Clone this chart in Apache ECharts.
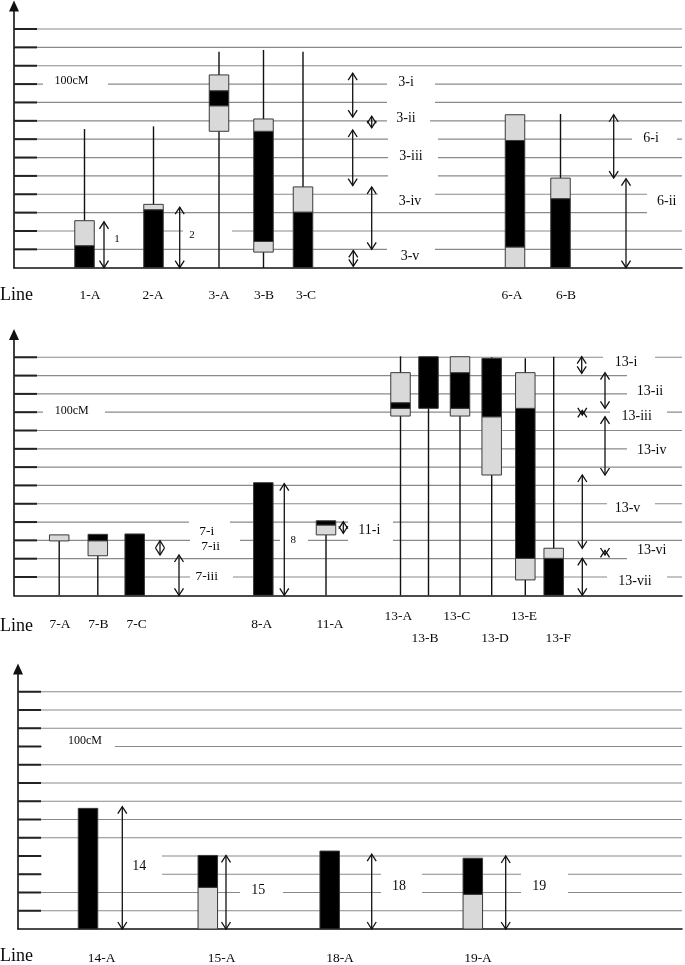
<!DOCTYPE html>
<html><head><meta charset="utf-8">
<script src="https://cdn.jsdelivr.net/npm/echarts/dist/echarts.min.js"></script>
<style>html,body{margin:0;padding:0;background:#fff}#c{width:685px;height:965px}</style>
</head><body><div id="c"></div>
<script>
// ---------------- DATA ----------------
const gridValues = [1,2,3,4,5,6,7,8,9,10,11,12,13];

// Panel 1
const cats1 = ['1-A','2-A','3-A','3-B','3-C','6-A','6-B'];
const stemTop1 = [7.55, 7.7, 11.76, 11.86, 11.76, null, 8.37];
const segs1 = [
  ['1-A',0,1.2,'B'],['1-A',1.2,2.56,'G'],
  ['2-A',0,3.16,'B'],['2-A',3.16,3.45,'G'],
  ['3-A',7.43,8.82,'G'],['3-A',8.82,9.64,'B'],['3-A',9.64,10.5,'G'],
  ['3-B',0.85,1.43,'G'],['3-B',1.43,7.43,'B'],['3-B',7.43,8.1,'G'],
  ['3-C',0,3.03,'B'],['3-C',3.03,4.4,'G'],
  ['6-A',0,1.13,'G'],['6-A',1.13,6.93,'B'],['6-A',6.93,8.33,'G'],
  ['6-B',0,3.76,'B'],['6-B',3.76,4.88,'G']
];
const intervals1 = [['1',0,2.5],['2',0,3.3],['3-i',8.2,10.6],['3-ii',7.62,8.25],['3-iii',4.47,7.5],['3-iv',1.0,4.4],['3-v',0.07,0.94],['6-i',4.88,8.33],['6-ii',0,4.85]];
const labels1 = ['1','2','3-i','3-ii','3-iii','3-iv','3-v','6-i','6-ii'];

// Panel 2
const cats2 = ['7-A','7-B','7-C','8-A','11-A','13-A','13-B','13-C','13-D','13-E','13-F'];
const stemTop2 = [2.97, 2.16, null, null, 3.3, 13.05, 13.0, 13.0, 13.0, 12.94, 13.03];
const segs2 = [
  ['7-A',2.97,3.3,'G'],
  ['7-B',2.16,2.98,'G'],['7-B',2.98,3.33,'B'],
  ['7-C',0,3.35,'B'],
  ['8-A',0,6.15,'B'],
  ['11-A',3.3,3.84,'G'],['11-A',3.84,4.07,'B'],
  ['13-A',9.79,10.21,'G'],['13-A',10.21,10.52,'B'],['13-A',10.52,12.16,'G'],
  ['13-B',10.21,13.03,'B'],
  ['13-C',9.79,10.21,'G'],['13-C',10.21,12.16,'B'],['13-C',12.16,13.03,'G'],
  ['13-D',6.57,9.75,'G'],['13-D',9.75,12.94,'B'],
  ['13-E',0.84,2.02,'G'],['13-E',2.02,10.21,'B'],['13-E',10.21,12.16,'G'],
  ['13-F',0,2.02,'B'],['13-F',2.02,2.57,'G']
];
const intervals2 = [['7-ii',2.2,2.98],['7-iii',0,2.2],['8',0,6.1],['11-i',3.39,4.02],['13-i',12.12,13.03],['13-ii',10.21,12.16],['13-iii',9.85,10.1],['13-iv',6.57,9.75],['13-v',2.57,6.57],['13-vi',2.2,2.45],['13-vii',0,2.02]];
const labels2 = ['7-i','7-ii','7-iii','8','11-i','13-i','13-ii','13-iii','13-iv','13-v','13-vi','13-vii'];

// Panel 3
const cats3 = ['14-A','15-A','18-A','19-A'];
const stemTop3 = [null,null,null,null];
const segs3 = [['14-A',0,6.61,'B'],['15-A',0,2.28,'G'],['15-A',2.28,4.03,'B'],['18-A',0,4.27,'B'],['19-A',0,1.9,'G'],['19-A',1.9,3.88,'B']];
const intervals3 = [['14',0,6.7],['15',0,4.03],['18',0,4.1],['19',0,4.0]];
const labels3 = ['14','15','18','19'];

const axisTitle = 'Line';
const scaleLabel = '100cM';

// ---------------- LAYOUT ----------------
const X_MAX = 682, Y_MAX = 14.25, BAR_W = 19.5, TICK_LEN = 23;
const layout = [
  { left:14, baseline:267.7, unit:18.36,
    catX:[84.5,153.5,219,263.5,303,515,560.5],
    catLabelX:[90,153,219,264,306,512,566], catLabelV:[-1.49,-1.49,-1.49,-1.49,-1.49,-1.49,-1.49],
    intervalX:[104,179.7,352.7,371.7,352.7,371.7,353.3,613.7,626],
    labelPos:[[117,1.56],[192,1.78],[406,10.1],[406,8.14],[411,6.05],[410,3.6],[410,0.6],[651,7.05],[666.7,3.6]],
    labelSize:[11,11,14,14,14,14,14,14,14],
    masks:[[43,108,9.6,10.45],[95,163,1.5,2.4],[183,232,1.5,2.4],[387,435,8.8,10.5],[387,430,7.6,8.5],[388,438,4.6,7.3],[378,435,3.3,4.3],[387,435,0.3,1.3],[632,677,6.6,7.4],[647,685,2.6,4.3]],
    cm:[71.5,10.17], lineV:-1.49 },
  { left:14, baseline:595.3, unit:18.31,
    catX:[59.2,97.8,134.7,263.3,326,400.5,428.5,460,491.7,525.3,553.7],
    catLabelX:[60,98.3,136.7,261.7,330,398.3,425,456.7,495,524,558.3],
    catLabelV:[-1.58,-1.58,-1.58,-1.58,-1.58,-1.17,-2.35,-1.17,-2.35,-1.17,-2.35],
    intervalX:[160,179,284.3,343.3,581.7,605,582.3,605,582.3,605,582.3],
    labelPos:[[206.7,3.46],[210.7,2.66],[206.7,1.02],[293.3,3.02],[369.3,3.53],[626,12.7],[650,11.12],[636.7,9.79],[651.7,7.94],[627.5,4.75],[651.7,2.47],[635,0.78]],
    labelSize:[13.5,13.5,13.5,11,14,14,14,14,14,14,14,14],
    masks:[[43,105,9.6,10.45],[189,230,3.2,4.3],[190,240,2.3,3.2],[190,233,0.6,1.4],[280,308,2.6,3.4],[348,393,2.6,4.4],[603,655,12.4,13.3],[627,685,10.7,12.3],[610,667,9.6,10.4],[627,685,7.6,8.4],[607,655,4.4,5.3],[627,685,1.6,2.8],[607,667,0.5,1.3]],
    cm:[71.7,10.08], lineV:-1.71 },
  { left:18, baseline:929, unit:18.25,
    catX:[88,207.8,329.7,472.8],
    catLabelX:[101.7,221.7,340,478], catLabelV:[-1.59,-1.59,-1.59,-1.59],
    intervalX:[122.3,226,371.7,505.7],
    labelPos:[[139.3,3.45],[258.3,2.14],[399,2.36],[539.3,2.32]],
    labelSize:[14,14,14,14],
    masks:[[42,115,9.6,10.6],[42,162,2.5,4.4],[240,283,1.6,2.4],[381,422,1.6,3.4],[521,568,1.6,3.4]],
    cm:[85,10.3], lineV:-1.48 }
];
const panelData = [
  {cats:cats1, stemTop:stemTop1, segs:segs1, intervals:intervals1, labels:labels1},
  {cats:cats2, stemTop:stemTop2, segs:segs2, intervals:intervals2, labels:labels2},
  {cats:cats3, stemTop:stemTop3, segs:segs3, intervals:intervals3, labels:labels3}
];

const FONT = '"Liberation Serif","Times New Roman",serif';
const GRAY_FILL = '#d9d9d9', BLACK_FILL = '#000000';

// ---------------- BUILD ----------------
const grids = [], xAxes = [], yAxes = [], series = [];
layout.forEach((L, i) => {
  const D = panelData[i];
  grids.push({ left: L.left, top: L.baseline - Y_MAX * L.unit, width: X_MAX - L.left, height: Y_MAX * L.unit });
  xAxes.push({ gridIndex:i, type:'value', min:L.left, max:X_MAX,
    axisLine:{show:true, onZero:true, lineStyle:{color:'#111', width:1.6}},
    axisTick:{show:false}, axisLabel:{show:false}, splitLine:{show:false} });
  yAxes.push({ gridIndex:i, type:'value', min:0, max:Y_MAX,
    axisLine:{show:true, symbol:['none','triangle'], symbolSize:[10,11], lineStyle:{color:'#111', width:1.6}},
    axisTick:{show:false}, axisLabel:{show:false}, splitLine:{show:false} });
  const base = { type:'custom', xAxisIndex:i, yAxisIndex:i, silent:true, animation:false };

  // gridlines + ticks
  series.push(Object.assign({}, base, { z:1,
    data: gridValues.map(v => [L.left, v]),
    renderItem: (p, api) => {
      const a = api.coord([L.left, api.value(1)]), b = api.coord([X_MAX, api.value(1)]);
      return { type:'group', children:[
        { type:'line', shape:{x1:a[0], y1:a[1], x2:b[0], y2:b[1]}, style:{stroke:'#8a8a8a', lineWidth:1.2} },
        { type:'line', shape:{x1:a[0], y1:a[1], x2:a[0]+TICK_LEN, y2:a[1]}, style:{stroke:'#222', lineWidth:2} }
      ]};
    }}));

  // text-box masks (white boxes behind labels)
  series.push(Object.assign({}, base, { z:2,
    data: L.masks.map(m => [m[0], m[2]]),
    renderItem: (p, api) => {
      const m = L.masks[p.dataIndex];
      const a = api.coord([m[0], m[3]]), b = api.coord([m[1], m[2]]);
      return { type:'rect', shape:{x:a[0], y:a[1], width:b[0]-a[0], height:b[1]-a[1]}, style:{fill:'#ffffff'} };
    }}));

  // stems (chromosome lines)
  const stems = [];
  D.cats.forEach((c, k) => { if (D.stemTop[k] != null) stems.push([L.catX[k], D.stemTop[k]]); });
  series.push(Object.assign({}, base, { z:3,
    data: stems,
    renderItem: (p, api) => {
      const a = api.coord([api.value(0), 0]), b = api.coord([api.value(0), api.value(1)]);
      return { type:'line', shape:{x1:a[0], y1:a[1], x2:b[0], y2:b[1]}, style:{stroke:'#111', lineWidth:1.4} };
    }}));

  // segments
  series.push(Object.assign({}, base, { z:4,
    data: D.segs.map(s => [L.catX[D.cats.indexOf(s[0])], s[1], s[2]]),
    renderItem: (p, api) => {
      const s = D.segs[p.dataIndex];
      const x = api.value(0);
      const a = api.coord([x, api.value(2)]), b = api.coord([x, api.value(1)]);
      return { type:'rect', shape:{x:a[0]-BAR_W/2, y:a[1], width:BAR_W, height:b[1]-a[1]},
        style:{fill: s[3] === 'B' ? BLACK_FILL : GRAY_FILL, stroke:'#3a3a3a', lineWidth:1} };
    }}));

  // double-headed arrows
  series.push(Object.assign({}, base, { z:5,
    data: D.intervals.map((it, k) => [L.intervalX[k], it[1], it[2]]),
    renderItem: (p, api) => {
      const x = api.value(0);
      const b = api.coord([x, api.value(1)]), t = api.coord([x, api.value(2)]);
      const hw = 4.5, hl = 7, st = {stroke:'#111', lineWidth:1.3, fill:null};
      return { type:'group', children:[
        { type:'line', shape:{x1:b[0], y1:b[1], x2:t[0], y2:t[1]}, style:st },
        { type:'polyline', shape:{points:[[t[0]-hw, t[1]+hl],[t[0], t[1]],[t[0]+hw, t[1]+hl]]}, style:st },
        { type:'polyline', shape:{points:[[b[0]-hw, b[1]-hl],[b[0], b[1]],[b[0]+hw, b[1]-hl]]}, style:st }
      ]};
    }}));

  // texts
  const texts = [];
  D.cats.forEach((c, k) => texts.push({x:L.catLabelX[k], v:L.catLabelV[k], t:c, size:13.5, align:'center'}));
  D.labels.forEach((c, k) => texts.push({x:L.labelPos[k][0], v:L.labelPos[k][1], t:c, size:L.labelSize[k], align:'center'}));
  texts.push({x:L.cm[0], v:L.cm[1], t:scaleLabel, size:12, align:'center'});
  texts.push({x:L.left, v:L.lineV, t:axisTitle, size:18, align:'left', dx:-L.left});
  series.push(Object.assign({}, base, { z:6,
    data: texts.map(o => [o.x, o.v]),
    renderItem: (p, api) => {
      const o = texts[p.dataIndex];
      const c = api.coord([api.value(0), api.value(1)]);
      return { type:'text', style:{ text:o.t, x:c[0] + (o.dx || 0), y:c[1], fill:'#0a0a0a',
        font: o.size + 'px ' + FONT, align:o.align, verticalAlign:'middle' } };
    }}));
});

const chart = echarts.init(document.getElementById('c'), null, {renderer:'canvas'});
chart.setOption({ animation:false, backgroundColor:'#ffffff', grid:grids, xAxis:xAxes, yAxis:yAxes, series:series });
</script></body></html>
